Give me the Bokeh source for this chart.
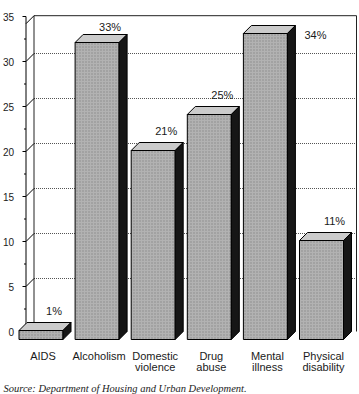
from bokeh.plotting import figure
from bokeh.models import ColumnDataSource, Range1d
from bokeh.embed import file_html
from bokeh.resources import INLINE
from bokeh.core.properties import value

# ---- data -------------------------------------------------------------
categories = ["AIDS", "Alcoholism", "Domestic\nviolence", "Drug\nabuse",
              "Mental\nillness", "Physical\ndisability"]
percents = [1, 33, 21, 25, 34, 11]
value_labels = ["1%", "33%", "21%", "25%", "34%", "11%"]
y_ticks = [0, 5, 10, 15, 20, 25, 30, 35]
y_minor_ticks = [2.5, 7.5, 12.5, 17.5, 22.5, 27.5, 32.5]
source_note = "Source: Department of Housing and Urban Development."

# ---- geometry (pixels -> data units) ---------------------------------
W, H = 359, 394
SLOT = 56.1      # px per category slot
UNIT = 9.0       # px per percent
X0 = 40.5        # canvas x of first bar's front centre
Y0 = 339.0       # canvas y of front baseline
DX = 8.0 / SLOT  # depth offset (x)
DY = 8.0 / UNIT  # depth offset (y)
BW = 44.0 / SLOT # bar width (slots)
FONT = value("Liberation Sans")

p = figure(width=W, height=H,
           x_range=Range1d(-X0 / SLOT, (W - X0) / SLOT),
           y_range=Range1d(-(H - Y0) / UNIT, Y0 / UNIT),
           output_backend="svg", toolbar_location=None, min_border=0,
           x_axis_location=None, y_axis_location=None,
           outline_line_color=None, background_fill_color="white",
           border_fill_color="white")
p.grid.visible = False

n = len(categories)
xs = list(range(n))
x_axis = -BW / 2 + DX - 1.0 / SLOT
wall_left = x_axis + DX
wall_right = (n - 1) + BW / 2 + DX + 5.0 / SLOT
wall_base = 2 * DY
wall_top = 34.2 + 2 * DY

# back wall gridlines (dotted)
grid_v = [v for v in y_ticks if 0 < v < max(y_ticks)]
p.segment(x0=[wall_left] * len(grid_v), y0=[v + 2 * DY for v in grid_v],
          x1=[wall_right] * len(grid_v), y1=[v + 2 * DY for v in grid_v],
          line_color="#555555", line_width=1, line_dash="1 1")
# wall edges
p.line(x=[wall_left, wall_left, wall_right, wall_right],
       y=[wall_base, wall_top, wall_top, DY],
       line_color="#222222", line_width=1)

# axis line, ticks, depth diagonals
p.segment(x0=[x_axis], y0=[DY], x1=[x_axis], y1=[max(y_ticks) + DY],
          line_color="black", line_width=1)
p.segment(x0=[x_axis - 3.5 / SLOT] * len(y_ticks), y0=[v + DY for v in y_ticks],
          x1=[x_axis] * len(y_ticks), y1=[v + DY for v in y_ticks],
          line_color="black", line_width=1)
p.segment(x0=[x_axis - 2.0 / SLOT] * len(y_minor_ticks),
          y0=[v + DY for v in y_minor_ticks],
          x1=[x_axis] * len(y_minor_ticks), y1=[v + DY for v in y_minor_ticks],
          line_color="black", line_width=1)
diag_v = [v for v in y_ticks if v < max(y_ticks)] + [wall_top - 2 * DY]
p.segment(x0=[x_axis] * len(diag_v), y0=[v + DY for v in diag_v],
          x1=[wall_left] * len(diag_v), y1=[v + 2 * DY for v in diag_v],
          line_color="black", line_width=1)

# tick labels
p.text(x=[x_axis - 12.0 / SLOT] * len(y_ticks), y=[v + DY for v in y_ticks],
       text=[str(v) for v in y_ticks], text_align="right",
       text_baseline="middle", text_font=FONT, text_font_size="10px",
       text_color="#1a1a1a")

# ---- 3D bars ----------------------------------------------------------
left = [x - BW / 2 for x in xs]
right = [x + BW / 2 for x in xs]
front = ColumnDataSource(dict(left=left, right=right, top=percents,
                              bottom=[0] * n))
p.quad(left="left", right="right", top="top", bottom="bottom", source=front,
       fill_color="#b2b2b2", line_color="black", line_width=1,
       hatch_pattern="dot", hatch_color="#8a8a8a", hatch_scale=3,
       hatch_weight=1)
top_xs = [[l, r, r + DX, l + DX] for l, r in zip(left, right)]
top_ys = [[v, v, v + DY, v + DY] for v in percents]
p.patches(xs=top_xs, ys=top_ys, fill_color="#cbcbcb", line_color="black",
          line_width=1)
side_xs = [[r, r + DX, r + DX, r] for r in right]
side_ys = [[0, DY, v + DY, v] for v in percents]
p.patches(xs=side_xs, ys=side_ys, fill_color="#161616", line_color="black",
          line_width=1)

# value labels
lab_x, lab_y, lab_t, rx, ry, rt = [], [], [], [], [], []
limit = wall_top - 11.0 / UNIT
for x, v, t in zip(xs, percents, value_labels):
    y = v + DY + 12.0 / UNIT
    if y - limit > 1.0:
        rx.append(x + BW / 2 + DX + 9.0 / SLOT)
        ry.append(v - 0.2)
        rt.append(t)
    else:
        lab_x.append(x + 13.0 / SLOT)
        lab_y.append(min(y, limit))
        lab_t.append(t)
p.text(x=lab_x, y=lab_y, text=lab_t, text_align="center",
       text_baseline="middle", text_font=FONT, text_font_size="11px",
       text_color="#1a1a1a")
p.text(x=rx, y=ry, text=rt, text_align="left", text_baseline="middle",
       text_font=FONT, text_font_size="11px", text_color="#1a1a1a")

# category labels (two lines)
line1 = [c.split("\n")[0] for c in categories]
line2 = [c.split("\n")[1] if "\n" in c else "" for c in categories]
cx = [x + 2.0 / SLOT for x in xs]
p.text(x=cx, y=[-16.0 / UNIT] * n, text=line1, text_align="center",
       text_baseline="middle", text_font=FONT, text_font_size="11px",
       text_color="#1a1a1a")
p.text(x=cx, y=[-27.0 / UNIT] * n, text=line2, text_align="center",
       text_baseline="middle", text_font=FONT, text_font_size="11px",
       text_color="#1a1a1a")

# source note
p.text(x=[(3.0 - X0) / SLOT], y=[-49.0 / UNIT], text=[source_note],
       text_align="left", text_baseline="middle",
       text_font=value("Liberation Serif"), text_font_style="italic",
       text_font_size="10.5px", text_color="#222222")

open("out.html", "w").write(file_html(p, INLINE))
